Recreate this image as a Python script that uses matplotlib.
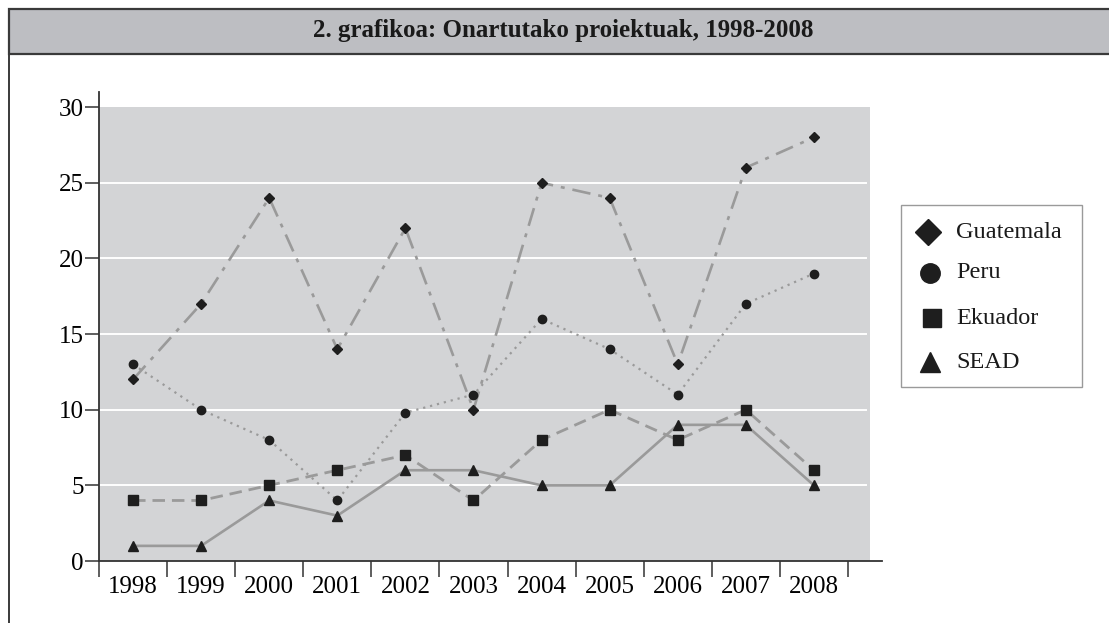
import matplotlib
matplotlib.use("Agg")
import matplotlib.pyplot as plt
from matplotlib.lines import Line2D
from matplotlib.patches import Rectangle

years = ["1998", "1999", "2000", "2001", "2002", "2003", "2004", "2005", "2006", "2007", "2008"]
guatemala = [12, 17, 24, 14, 22, 10, 25, 24, 13, 26, 28]
peru = [13, 10, 8, 4, 9.8, 11, 16, 14, 11, 17, 19]
ekuador = [4, 4, 5, 6, 7, 4, 8, 10, 8, 10, 6]
sead = [1, 1, 4, 3, 6, 6, 5, 5, 9, 9, 5]
series_names = ["Guatemala", "Peru", "Ekuador", "SEAD"]
title = "2. grafikoa: Onartutako proiektuak, 1998-2008"

plt.rcParams['font.family'] = ['Liberation Serif', 'DejaVu Serif']

W, H = 1109, 623
fig = plt.figure(figsize=(W / 100, H / 100), dpi=100)

def fx(px):
    return px / W

def fy(py):
    return 1 - py / H

# Outer frame and title band
fig.add_artist(Rectangle((fx(9), fy(54)), fx(1109 - 9) + 0.01, (54 - 9) / H,
                         transform=fig.transFigure, facecolor="#bdbec2",
                         edgecolor="#3a3a3a", linewidth=1.6, clip_on=False))
fig.add_artist(Line2D([fx(9), fx(9)], [fy(54), 0], transform=fig.transFigure,
                      color="#3a3a3a", linewidth=1.4))
fig.text(fx(563), fy(30), title, ha="center", va="center", fontsize=18,
         fontweight="bold", color="#1a1a1a")

# Main axes
left, right, bottom, top = 99, 882, 561, 92
ax = fig.add_axes([fx(left), fy(bottom), (right - left) / W, (bottom - top) / H])
ax.set_facecolor("white")
x = list(range(len(years)))
ax.set_xlim(-0.5, 11.0)
ax.set_ylim(0, 31)

ax.add_patch(Rectangle((-0.5, 0), 11.32, 30, facecolor="#d3d4d6", edgecolor="none", zorder=0))
for yv in [5, 10, 15, 20, 25]:
    ax.plot([-0.5, 10.77], [yv, yv], color="white", linewidth=1.4, zorder=1)

line_color = "#9a9a9a"
mk_color = "#1e1e1e"
ax.plot(x, guatemala, color=line_color, linewidth=1.9, dashes=(7, 3, 1.5, 3),
        marker="D", markersize=5.5, markerfacecolor=mk_color, markeredgecolor=mk_color, zorder=3)
ax.plot(x, peru, color=line_color, linewidth=1.6, linestyle=(0, (1, 2.2)),
        marker="o", markersize=6, markerfacecolor=mk_color, markeredgecolor=mk_color, zorder=3)
ax.plot(x, ekuador, color=line_color, linewidth=2.0, linestyle=(0, (4.5, 2.5)),
        marker="s", markersize=7, markerfacecolor=mk_color, markeredgecolor=mk_color, zorder=3)
ax.plot(x, sead, color=line_color, linewidth=1.9, linestyle="-",
        marker="^", markersize=6.5, markerfacecolor=mk_color, markeredgecolor=mk_color, zorder=3)

for s in ["top", "right"]:
    ax.spines[s].set_visible(False)
for s in ["left", "bottom"]:
    ax.spines[s].set_color("#333333")
    ax.spines[s].set_linewidth(1.3)

ax.set_yticks([0, 5, 10, 15, 20, 25, 30])
ax.set_yticklabels(["0", "5", "10", "15", "20", "25", "30"])
ax.tick_params(axis="y", direction="out", length=10, width=1.1, color="#333333",
               labelsize=18, pad=1)

ax.set_xticks([i - 0.5 for i in range(len(years) + 1)])
ax.set_xticklabels([])
ax.set_xticks(x, minor=True)
ax.set_xticklabels(years, minor=True)
ax.tick_params(axis="x", which="major", direction="out", length=11.5, width=1.1, color="#333333")
ax.tick_params(axis="x", which="minor", length=0, labelsize=18, pad=11)

# Legend (manual)
fig.add_artist(Rectangle((fx(901), fy(387)), (1082 - 901) / W, (387 - 205) / H,
                         transform=fig.transFigure, facecolor="white",
                         edgecolor="#9a9a9a", linewidth=1.0))
leg_markers = ["D", "o", "s", "^"]
leg_sizes = [13, 14, 13, 14]
leg_x = [928, 930, 932, 930]
leg_y = [232, 273, 318, 362]
for name, m, ms, xx, yy in zip(series_names, leg_markers, leg_sizes, leg_x, leg_y):
    fig.add_artist(Line2D([fx(xx)], [fy(yy)], transform=fig.transFigure, marker=m,
                          markersize=ms, color=mk_color, linestyle="none"))
    fig.text(fx(956), fy(yy), name, ha="left", va="center", fontsize=17.5, color="#1a1a1a")

fig.savefig("out.png", dpi=100, facecolor="white")
